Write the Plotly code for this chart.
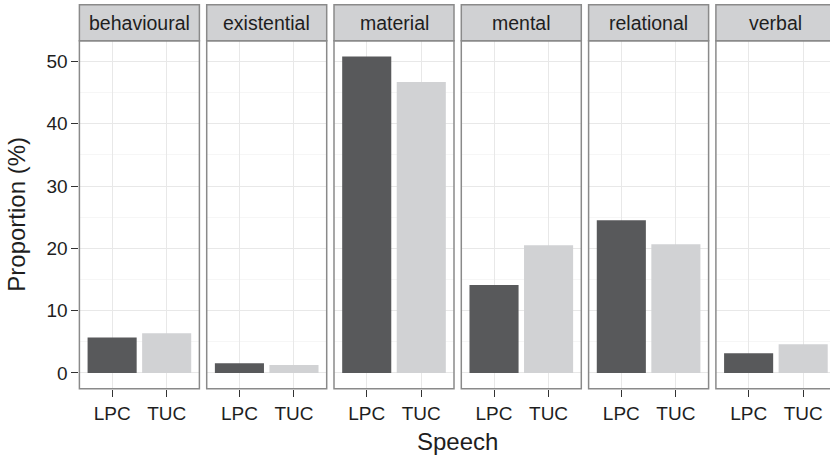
import plotly.graph_objects as go

# ---- data ----
processes = ["behavioural", "existential", "material", "mental", "relational", "verbal"]
speech = ["LPC", "TUC"]
lpc_values = [5.7, 1.55, 50.8, 14.1, 24.5, 3.15]
tuc_values = [6.35, 1.25, 46.7, 20.5, 20.65, 4.6]
y_tick_values = [0, 10, 20, 30, 40, 50]
x_title = "Speech"
y_title = "Proportion (%)"

# ---- style / layout ----
W, H = 830, 458
FONT = "Liberation Sans, Arial, Helvetica, sans-serif"
DARK = "#58595b"
LIGHT = "#d1d2d4"
STRIP = "#d0d1d3"
BORDER = "#8a8a8a"
TXT = "#1e1e1e"
px0, step, pw = 79.4, 127.3, 120.0
top_px, bot_px, strip_top = 40.7, 388.7, 4.7


def fx(p):
    return p / W


def fy(p):
    return 1 - p / H


ymax = max(max(lpc_values), max(tuc_values))
yrange = [-0.05 * ymax, ymax * 1.05]

fig = go.Figure()
shapes = []
annotations = []
layout = {}

for i, proc in enumerate(processes):
    n = "" if i == 0 else str(i + 1)
    xa, ya = "x" + n, "y" + n
    left = px0 + i * step
    right = left + pw
    vis_right = min(right, W)
    frac = (vis_right - left) / pw
    xr = [-0.6, -0.6 + 2.2 * frac]

    fig.add_trace(go.Bar(
        x=speech, y=[lpc_values[i], tuc_values[i]],
        marker=dict(color=[DARK, LIGHT], line=dict(width=0)),
        width=0.9, xaxis=xa, yaxis=ya, showlegend=False,
        hoverinfo="x+y",
    ))

    layout["xaxis" + n] = dict(
        domain=[fx(left), fx(vis_right)], anchor=ya, range=xr,
        type="category", categoryorder="array", categoryarray=speech,
        showgrid=True, gridcolor="#e8e8e8", gridwidth=1,
        ticks="outside", ticklen=7, tickcolor="#333333", tickwidth=1.2,
        tickfont=dict(family=FONT, size=19, color=TXT),
        showline=False, zeroline=False, fixedrange=True,
    )
    layout["yaxis" + n] = dict(
        domain=[fy(bot_px), fy(top_px)], anchor=xa, range=yrange,
        tickvals=y_tick_values, showticklabels=(i == 0),
        ticks="outside" if i == 0 else "", ticklen=7, tickcolor="#333333", tickwidth=1.2,
        tickfont=dict(family=FONT, size=19, color=TXT),
        showgrid=True, gridcolor="#e8e8e8", gridwidth=1,
        minor=dict(dtick=5, tick0=5, showgrid=True, gridcolor="#f6f6f6", gridwidth=1.2),
        zeroline=False, showline=False, fixedrange=True,
    )

    # panel border
    shapes.append(dict(type="rect", xref="paper", yref="paper",
                       x0=fx(left), x1=fx(right), y0=fy(bot_px), y1=fy(top_px),
                       line=dict(color=BORDER, width=1.5), fillcolor="rgba(0,0,0,0)",
                       layer="above"))
    # strip
    shapes.append(dict(type="rect", xref="paper", yref="paper",
                       x0=fx(left), x1=fx(right), y0=fy(top_px), y1=fy(strip_top),
                       line=dict(color=BORDER, width=1.5), fillcolor=STRIP,
                       layer="above"))
    annotations.append(dict(text=proc, xref="paper", yref="paper",
                            x=fx((left + right) / 2), y=fy((top_px + strip_top) / 2),
                            showarrow=False, xanchor="center", yanchor="middle",
                            font=dict(family=FONT, size=19.5, color=TXT)))

annotations.append(dict(text=x_title, xref="paper", yref="paper",
                        x=fx((px0 + px0 + 5 * step + pw) / 2), y=fy(441),
                        showarrow=False, xanchor="center", yanchor="middle",
                        font=dict(family=FONT, size=24, color=TXT)))
annotations.append(dict(text=y_title, xref="paper", yref="paper",
                        x=fx(17), y=fy((top_px + bot_px) / 2), textangle=-90,
                        showarrow=False, xanchor="center", yanchor="middle",
                        font=dict(family=FONT, size=24, color=TXT)))

fig.update_layout(
    width=W, height=H, margin=dict(l=0, r=0, t=0, b=0),
    paper_bgcolor="white", plot_bgcolor="white",
    shapes=shapes, annotations=annotations, bargap=0.1,
    font=dict(family=FONT, color=TXT),
    **layout,
)

fig.write_html(
    "out.html",
    config={"displayModeBar": False},
    post_script="document.body.style.margin='0';document.body.style.overflow='hidden';",
)
